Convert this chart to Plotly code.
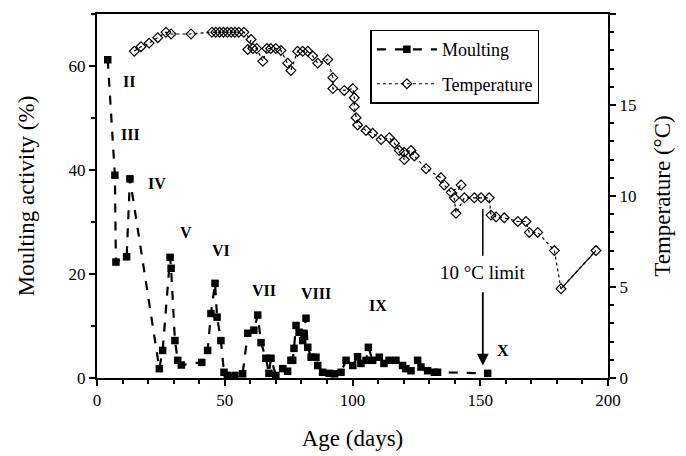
import plotly.graph_objects as go

# Moulting activity (%) vs age (days)
moult_day = [4.2, 7.0, 7.4, 11.6, 12.9, 24.4, 25.7, 28.6, 29.0, 30.5, 31.6, 33, 41, 43.3, 44.6, 46.2, 47.0, 48.5,
             49.7, 51, 54, 57, 59, 61.4, 62.9, 64.2, 66.1, 67.3, 68.1, 70, 72.7, 74.6, 75.9, 76.6, 77.1, 77.9, 79.1,
             80.5, 81.0, 81.8, 82.5, 83.8, 85.7, 86.4, 88.3, 90.8, 93, 95.5, 97.5, 100.1, 102.0, 103.3, 105.3, 106.2,
             107.9, 110.5, 112.3, 114.3, 117.0, 119.6, 120.9, 122.9, 125.5, 126.8, 129.4, 132, 133.3, 152.9]
moult_pct = [61.2, 39.0, 22.3, 23.3, 38.3, 1.8, 5.3, 23.2, 21.1, 7.2, 3.4, 2.5, 3.0, 5.3, 12.4, 18.2, 11.7, 7.2,
             1.1, 0.5, 0.5, 0.8, 8.6, 9.2, 12.1, 6.8, 3.8, 0.9, 3.8, 0.5, 1.8, 1.3, 3.4, 3.4, 5.7, 10.1, 8.8,
             7.2, 8.6, 11.5, 5.9, 4.0, 4.0, 2.4, 1.1, 0.9, 0.8, 1.1, 3.4, 2.4, 4.1, 2.8, 3.4, 5.9,
             3.4, 4.0, 2.8, 3.4, 3.4, 2.4, 1.8, 1.4, 3.4, 2.1, 1.4, 1.1, 1.1, 0.9]

# Temperature (°C) vs age (days)
temp_day = [14.6, 17.2, 20.4, 23.8, 27.0, 29.0, 36.8, 45, 46.5, 48, 49.5, 51, 52.5, 54, 55.5, 57.5,
            60.3, 59, 61, 62.5, 64.9, 66.5, 68, 70, 72, 74.6, 75.9, 78.5, 80.5, 82.5, 84.4, 86.4, 90.3, 92.3, 92.3,
            96.8, 100.1, 100.7, 100.7, 101.4, 102.0, 105.3, 107.9, 111.2, 114.4, 116.4, 118.3, 120.3, 120.2, 122.9,
            124.2, 128.8, 134.6, 135.9, 138.6, 142.5, 139.8, 140.5, 143.8, 147.7, 150.3, 153.5,
            154.2, 156.2, 159.4, 164.7, 167.9, 169.2, 172.5, 179, 181.6, 195.3]
temp_c = [17.95, 18.2, 18.4, 18.7, 19.0, 18.9, 18.9, 19.0, 19.0, 19.0, 19.0, 19.0, 19.0, 19.0, 19.0, 19.0,
          18.6, 18.05, 18.1, 18.1, 17.4, 18.1, 18.1, 18.1, 18.0, 17.3, 16.9, 17.95, 17.95, 17.95, 17.7, 17.3, 17.5,
          16.5, 15.9, 15.8, 15.9, 15.4, 14.9, 14.3, 13.9, 13.6, 13.45, 13.1, 13.2, 12.9, 12.5, 12.0, 12.4, 12.5,
          12.2, 11.5, 11.0, 10.6, 10.2, 10.6, 9.9, 9.05, 9.9, 9.9, 9.9, 9.9,
          8.95, 8.85, 8.8, 8.6, 8.6, 8.0, 8.0, 7.0, 4.9, 7.0]

# Instar labels
instar_labels = ["II", "III", "IV", "V", "VI", "VII", "VIII", "IX", "X"]
instar_day = [12.5, 13.3, 23.4, 34.8, 48.5, 65.5, 85.7, 109.9, 158.8]
instar_pct = [57.0, 46.8, 37.4, 27.9, 24.6, 16.9, 16.2, 14.0, 5.3]

limit_day = 151
limit_text = "10 °C limit"

FONT = "Liberation Serif"

fig = go.Figure()

fig.add_trace(go.Scatter(
    x=moult_day, y=moult_pct, name="Moulting", yaxis="y", mode="lines+markers", legendgroup="m",
    line=dict(color="black", width=2.2, dash="dash"),
    marker=dict(symbol="square", size=7.5, color="black"),
))
fig.add_trace(go.Scatter(
    x=temp_day, y=temp_c, name="Temperature", yaxis="y2", mode="lines+markers", legendgroup="t",
    line=dict(color="black", width=1.2, dash="dot"),
    marker=dict(symbol="diamond-open", size=7.5, color="black", line=dict(width=1.2, color="black")),
))
fig.add_trace(go.Scatter(
    x=temp_day[-2:], y=temp_c[-2:], yaxis="y2", mode="lines", showlegend=False, legendgroup="t",
    line=dict(color="black", width=1.2),
))

for lab, dx, py in zip(instar_labels, instar_day, instar_pct):
    fig.add_annotation(x=dx, y=py, xref="x", yref="y", text="<b>" + lab + "</b>", showarrow=False,
                       font=dict(family=FONT, size=16, color="black"))

# 10 °C limit label and arrow
fig.add_annotation(x=limit_day, y=20.3, xref="x", yref="y", text=limit_text, showarrow=False,
                   font=dict(family=FONT, size=19, color="black"))
fig.add_annotation(x=limit_day, y=2.4, ax=limit_day, ay=16.8, xref="x", yref="y", axref="x", ayref="y",
                   text="", showarrow=True, arrowhead=2, arrowsize=1.3, arrowwidth=1.8, arrowcolor="black")
fig.add_shape(type="line", x0=limit_day, x1=limit_day, y0=23.5, y1=32.5, xref="x", yref="y",
              line=dict(color="black", width=1.5))

axis_common = dict(showline=True, linecolor="black", linewidth=2, ticks="outside", tickcolor="black",
                   tickwidth=1.5, ticklen=6, showgrid=False, zeroline=False, automargin=False,
                   tickfont=dict(family=FONT, size=17, color="black"))

fig.update_layout(
    width=678, height=448,
    margin=dict(l=89, r=78, t=6, b=78),
    paper_bgcolor="white", plot_bgcolor="white",
    font=dict(family=FONT, color="black"),
    xaxis=dict(range=[0, 200], tickvals=[0, 50, 100, 150, 200], mirror=True,
               minor=dict(dtick=10, ticks="outside", ticklen=4, tickcolor="black"),
               title=dict(text="Age (days)", font=dict(family=FONT, size=23), standoff=20),
               **axis_common),
    yaxis=dict(range=[0, 70], tickvals=[0, 20, 40, 60],
               minor=dict(dtick=10, ticks="outside", ticklen=4, tickcolor="black"),
               title=dict(text="Moulting activity (%)", font=dict(family=FONT, size=23), standoff=28),
               **axis_common),
    yaxis2=dict(range=[0, 20], tickvals=[0, 5, 10, 15, 20], overlaying="y", side="right",
                minor=dict(dtick=1, ticks="outside", ticklen=4, tickcolor="black"),
                title=dict(text="Temperature (°C)", font=dict(family=FONT, size=23), standoff=18),
                **axis_common),
    legend=dict(x=0.535, y=0.957, xanchor="left", yanchor="top", bordercolor="black", borderwidth=1.5,
                bgcolor="white", font=dict(family=FONT, size=18, color="black"),
                traceorder="grouped", itemwidth=60, tracegroupgap=8),
    showlegend=True,
)

fig.write_html("out.html")
